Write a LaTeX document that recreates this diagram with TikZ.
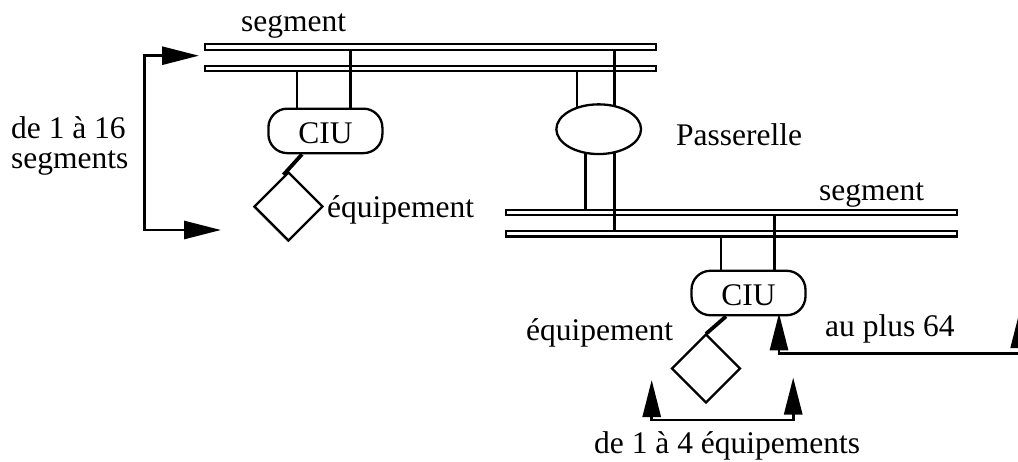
\documentclass[tikz,border=0pt]{standalone}
\usepackage{fontspec}
\setmainfont{Liberation Serif}
\usetikzlibrary{arrows.meta,shapes.geometric,backgrounds}
\newcommand\dfont{\fontsize{31.5pt}{36pt}\selectfont}
\begin{document}
\begin{tikzpicture}[x=1pt,y=-1pt,line width=2.3pt,
  bar/.style={draw,line width=2.2pt,inner sep=0pt,minimum width=451pt,minimum height=5.4pt,anchor=west},
  ciu/.style={draw,fill=white,line width=2.3pt,rounded corners=19pt,minimum width=114pt,minimum height=44.5pt,inner sep=0pt,text height=25.5pt,text depth=0pt,font=\dfont},
  gate/.style={draw,fill=white,ellipse,line width=2.3pt,minimum width=84.7pt,minimum height=49.7pt,inner sep=0pt},
  equip/.style={draw,fill=white,diamond,line width=2.3pt,minimum width=69pt,minimum height=69pt,inner sep=0pt},
  lbl/.style={font=\dfont,inner sep=0pt,anchor=base west},
  link/.style={line width=3.8pt},
  conn/.style={line width=2.3pt},
  arr/.style={line width=2.8pt,{Triangle[length=37pt,width=18pt]}-{Triangle[length=37pt,width=18pt]}}]
\useasboundingbox (0,0) rectangle (1018,461);
% segments
\node[bar] (topA) at (203.6,47) {};
\node[bar] (topB) at (203.6,68.5) {};
\node[bar] (botA) at (504.9,212.6) {};
\node[bar] (botB) at (504.9,233.7) {};
% devices
\node[ciu] (ciu1) at (325.4,130.9) {CIU};
\node[ciu] (ciu2) at (748.5,293) {CIU};
\node[gate] (ell) at (598.7,129.2) {};
\node[equip] (dia1) at (288.4,206.5) {};
\node[equip] (dia2) at (706,368.5) {};
% labels
\node[lbl] (tseg1) at (240,31.5) {segment};
\node[lbl] (tseg2) at (818,200.5) {segment};
\node[lbl] (tpass) at (675,145) {Passerelle};
\node[lbl] (teq1) at (326,217) {équipement};
\node[lbl] (teq2) at (525,340) {équipement};
\node[lbl] (tplus) at (824,336.7) {au plus 64};
\node[lbl] (trange) at (593,453) {de 1 à 4 équipements};
\node[lbl] (tsegA) at (10,138.3) {de 1 à 16};
\node[lbl] (tsegB) at (10,168.3) {segments};
% x positions of the taps
\coordinate (v1) at (297,0);
\coordinate (v2) at (350.4,0);
\coordinate (v3) at (577,0);
\coordinate (v4) at (614.4,0);
\coordinate (v5) at (585.4,0);
\coordinate (v6) at (721,0);
\coordinate (v7) at (774.5,0);
\coordinate (w1) at (302,0);
\coordinate (w2) at (726,0);
% arrow end points
\coordinate (tipA) at (199,55.7);
\coordinate (cornA) at (144.5,230);
\coordinate (tipB) at (221,230);
\coordinate (tipC) at (651.7,380);
\coordinate (cornC) at (651.7,420);
\coordinate (tipD) at (793.2,377.5);
\coordinate (tipE) at (779,313.3);
\coordinate (cornE) at (779,353.3);
\coordinate (tipF) at (1019.7,311);
\begin{pgfonlayer}{background}
\fill[white] (0,0) rectangle (1018,461);
\draw[conn] (v1 |- topB.south) -- (v1 |- ciu1.north);
\draw[conn] (v2 |- topA.south) -- (v2 |- ciu1.north);
\draw[conn] (v3 |- topB.south) -- (v3 |- ell.center);
\draw[conn] (v4 |- topA.south) -- (v4 |- ell.center);
\draw[conn] (v5 |- ell.center) -- (v5 |- botA.north);
\draw[conn] (v4 |- ell.center) -- (v4 |- botB.north);
\draw[conn] (v6 |- botB.south) -- (v6 |- ciu2.north);
\draw[conn] (v7 |- botA.south) -- (v7 |- ciu2.north);
\end{pgfonlayer}
% links from CIU to equipment
\draw[link] (w1 |- ciu1.south) -- ([xshift=-5pt,yshift=-4pt]dia1.north);
\draw[link] (w2 |- ciu2.south) -- ([yshift=-1pt]dia2.north);
% dimension arrows
\draw[arr] (tipA) -| (cornA) -- (tipB);
\draw[arr] (tipC) -- (cornC) -| (tipD);
\draw[arr] (tipE) -- (cornE) -| (tipF);
\end{tikzpicture}
\end{document}
